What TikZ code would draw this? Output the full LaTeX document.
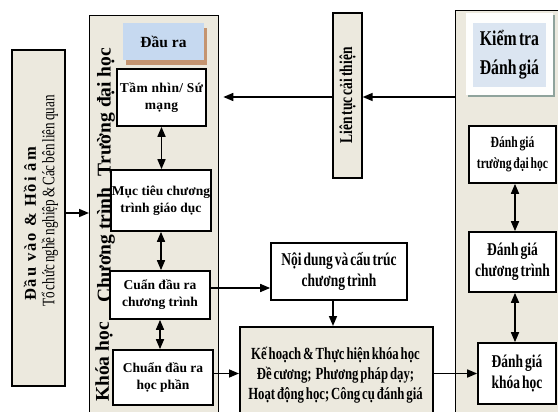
\documentclass[tikz,border=0pt]{standalone}
\usepackage{fontspec}
\setmainfont{Liberation Serif}
\newfontfamily\narrow[FakeStretch=0.75,WordSpace=0.6]{Liberation Serif}
\newfontfamily\spaced[LetterSpace=12]{Liberation Serif}
\newfontfamily\wide[LetterSpace=3]{Liberation Serif}
\usetikzlibrary{arrows.meta,positioning}
\definecolor{beige}{HTML}{ECE9DE}
\definecolor{paleblue}{HTML}{C6D9F0}
\definecolor{greyblue}{HTML}{DBE5F1}
\definecolor{brownshade}{HTML}{C49470}
\definecolor{greenshade}{HTML}{8FA39C}

\begin{document}
\begin{tikzpicture}[x=1pt,y=-1pt,>={Triangle[length=10pt,width=8pt]},line width=1.6pt,
  frame/.style={draw,line width=1.3pt,fill=beige,anchor=north west,inner sep=0pt},
  box/.style={draw,fill=white,align=center,inner sep=1pt,font=\bfseries\fontsize{13.5}{17}\selectfont},
  evalbox/.style={draw,fill=white,align=center,inner sep=1pt,font=\narrow\bfseries\fontsize{18}{21}\selectfont},
  side label/.style={rotate=90,font=\bfseries\fontsize{19.5}{22}\selectfont}]

    \useasboundingbox (0,0) rectangle (558,412);
    \clip (0,0) rectangle (558,412);

    % khung lon
    \node[frame, minimum width=129pt, minimum height=410pt] (lc) at (89,15) {};
    \node[frame, minimum width=120pt, minimum height=410pt] (rc) at (455,10) {};

    % dau vao
    \node[draw, line width=1.3pt, fill=beige, minimum width=53pt, minimum height=336pt] (in) at (38.5,218) {};
    \node[rotate=90, font=\spaced\bfseries\fontsize{16.5}{18}\selectfont] (inb) at (30,224) {\DJ{}ầu vào \& Hồi âm};
    \node[rotate=90, font=\narrow\fontsize{17.5}{19}\selectfont] (inr) at (50,201) {Tổ chức nghề nghiệp \& Các bên liên quan};

    % cot trai
    \node[fill=paleblue, minimum width=81pt, minimum height=37pt, font=\bfseries\fontsize{15.5}{17}\selectfont,
          preaction={fill=brownshade, transform canvas={shift={(3pt,-5pt)}}}] (dr) at (163.5,41.5) {\DJ{}ầu ra};
    \node[box, minimum width=89pt, minimum height=57pt, font=\wide\bfseries\fontsize{13.5}{17}\selectfont] (1) at (161.5,97.5) {Tầm nhìn/ Sứ\\mạng};
    \node[box, minimum width=100pt, minimum height=61pt] (2) at (161,200.5) {Mục tiêu chương\\trình giáo dục};
    \node[box, minimum width=100pt, minimum height=48pt] (3) at (160,295) {Cuẩn đầu ra\\chương trình};
    \node[box, minimum width=100pt, minimum height=55pt] (4) at (163,377.5) {Chuẩn đầu ra\\học phần};

    \node[side label] (t1) at (106,112) {Trường đại học};
    \node[side label] (t2) at (106,245) {Chương trình};
    \node[side label] (t3) at (104,362) {Khóa học};

    % lien tuc cai thien
    \node[draw, line width=1.3pt, fill=beige, minimum width=29pt, minimum height=165pt] (lt) at (347.5,95.5)
        {\rotatebox{90}{\narrow\bfseries\fontsize{18}{20}\selectfont Liên tục cải thiện}};

    % giua
    \node[evalbox, minimum width=136pt, minimum height=57pt] (nd) at (339,271.5) {Nội dung và cấu trúc\\chương trình};
    \node[frame, line width=1.6pt, minimum width=193pt, minimum height=95pt] (kh) at (239,326) {};
    \node[align=center, font=\narrow\bfseries\fontsize{17}{20}\selectfont] (khtext) at (335.5,375)
        {Kế hoạch \& Thực hiện khóa học\\\DJ{}ề cương;\ \ Phương pháp dạy;\\Hoạt động học; Công cụ đánh giá};

    % cot phai
    \node[fill=white!94!beige, minimum width=87pt, minimum height=82pt,
          preaction={fill=greenshade, transform canvas={shift={(2pt,-2pt)}}}] (ktf) at (509.5,54) {};
    \node[fill=greyblue, minimum width=73pt, minimum height=64pt, align=center,
          font=\narrow\bfseries\fontsize{21}{29}\selectfont] (kt) at (509.5,55) {Kiểm tra\\\DJ{}ánh giá};
    \node[evalbox, minimum width=87pt, minimum height=57pt, font=\narrow\bfseries\fontsize{15.5}{21}\selectfont] (1x) at (512.5,154.5) {\DJ{}ánh giá\\trường đại học};
    \node[evalbox, minimum width=87pt, minimum height=60pt] (2x) at (512.5,262) {\DJ{}ánh giá\\chương trình};
    \node[evalbox, minimum width=78pt, minimum height=61pt] (3x) at (517,373.5) {\DJ{}ánh giá\\khóa học};

        \draw[->] ([yshift=5pt]in.east) -- ([yshift=5pt]in.east -| lc.west);
        \draw[<->] (1.south) -- (1.south |- 2.north);
        \draw[<->] (2.south) -- (2.south |- 3.north);
        \draw[<->] (3.south) -- (3.south |- 4.north);
        \draw[->, shorten >=4pt] ([yshift=-1.5pt]lt.west) -- ([yshift=-1.5pt]lt.west -| lc.east);
        \draw[->] ([yshift=-1.5pt]lt.east -| rc.west) -- ([yshift=-1.5pt]lt.east);
        \draw[->] ([yshift=7pt]3.east) -- ([yshift=7pt]3.east -| nd.west);
        \draw[->] ([xshift=-6pt]nd.south) -- ([xshift=-6pt]nd.south |- kh.north);
        \draw[->] ([yshift=4pt]4.east) -- ([yshift=4pt]4.east -| kh.west);
        \draw[->] (3x.west -| kh.east) -- (3x.west);
        \draw[<->] ([xshift=2.5pt]1x.south) -- ([xshift=2.5pt]1x.south |- 2x.north);
        \draw[<->] ([xshift=2.5pt]2x.south) -- ([xshift=2.5pt]2x.south |- 3x.north);
    ;
\end{tikzpicture}
\end{document}
